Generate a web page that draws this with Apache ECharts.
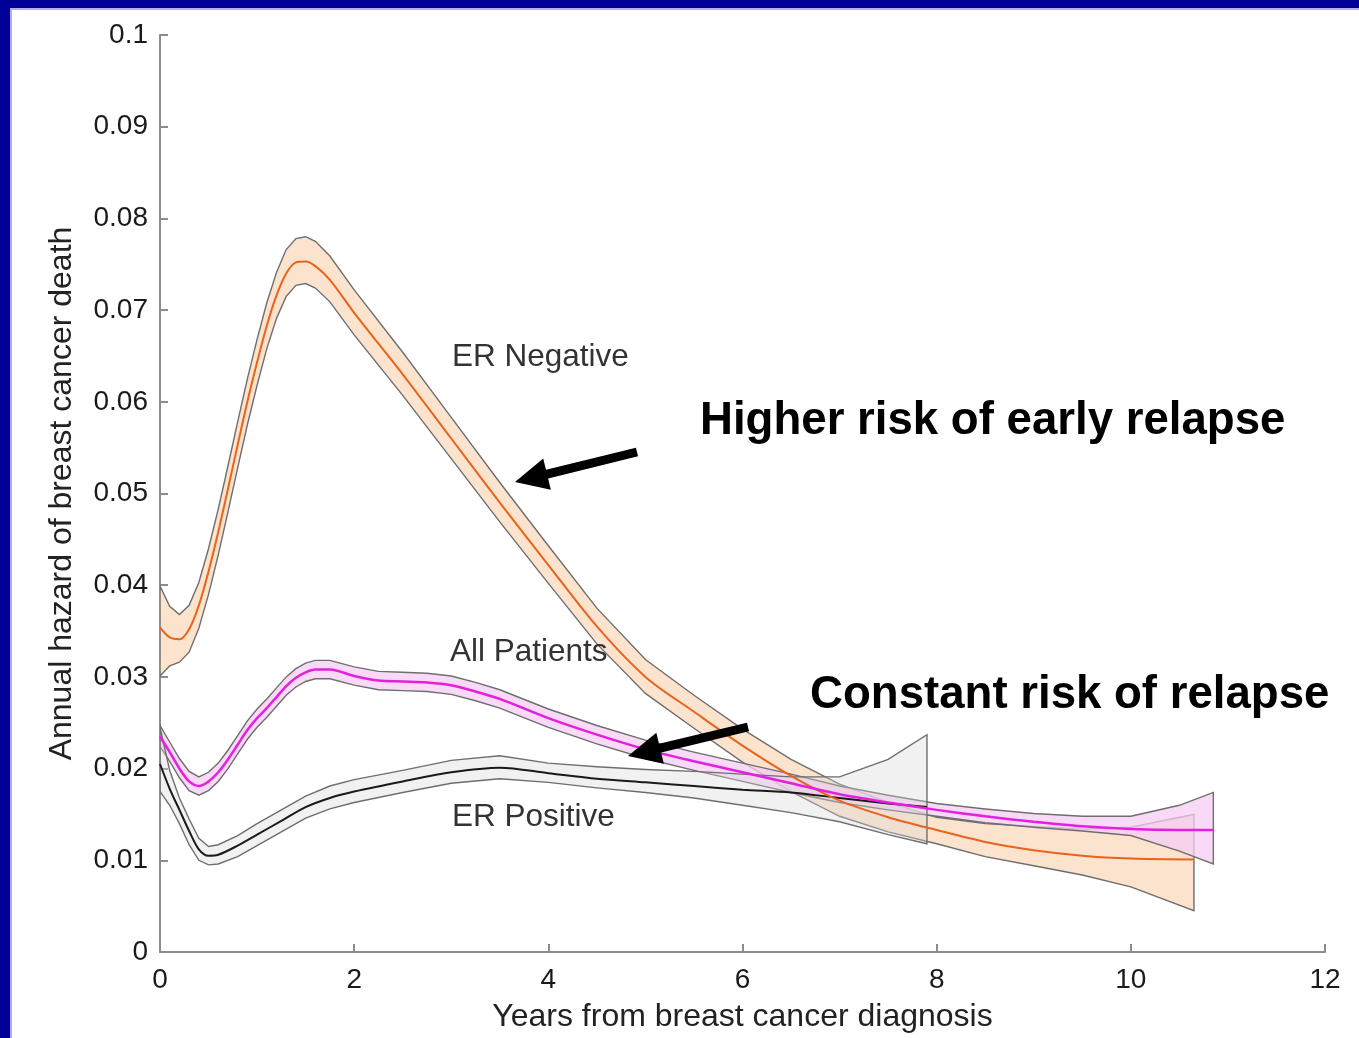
<!DOCTYPE html>
<html><head><meta charset="utf-8">
<script src="https://cdn.jsdelivr.net/npm/echarts/dist/echarts.min.js"></script>
<style>html,body{margin:0;padding:0;background:#fff;}#c{width:1359px;height:1038px;}</style>
</head><body><div id="c"></div>
<script>
// ---------- DATA ----------
const xTickLabels = ['0','2','4','6','8','10','12'];
const yTickLabels = ['0','0.01','0.02','0.03','0.04','0.05','0.06','0.07','0.08','0.09','0.1'];

// ER Negative
const xNeg = [0,0.1,0.2,0.3,0.4,0.5,0.6,0.7,0.8,0.9,1.0,1.1,1.2,1.3,1.4,1.5,1.6,1.75,2.0,2.5,3.0,3.5,4.0,4.5,5.0,5.5,6.0,6.5,7.0,7.5,8.0,8.5,9.0,9.5,10.0,10.65];
const negMean = [0.0354,0.0343,0.0341,0.0352,0.0378,0.0415,0.0458,0.0505,0.0553,0.0600,0.0643,0.0683,0.0716,0.0740,0.0752,0.0753,0.0748,0.0733,0.0697,0.0630,0.0560,0.0490,0.0422,0.0355,0.0300,0.0262,0.0225,0.0192,0.0165,0.0147,0.0133,0.0120,0.0111,0.0105,0.0102,0.0101];
const negUpper = [0.0399,0.0377,0.0368,0.0378,0.0403,0.0440,0.0483,0.0530,0.0578,0.0625,0.0668,0.0708,0.0741,0.0766,0.0778,0.0780,0.0775,0.0759,0.0722,0.0654,0.0583,0.0512,0.0443,0.0375,0.0319,0.0280,0.0243,0.0210,0.0183,0.0163,0.0147,0.0140,0.0137,0.0134,0.0136,0.0150];
const negLower = [0.0301,0.0312,0.0316,0.0327,0.0353,0.0390,0.0433,0.0480,0.0528,0.0575,0.0618,0.0658,0.0691,0.0715,0.0727,0.0729,0.0724,0.0709,0.0673,0.0607,0.0538,0.0469,0.0402,0.0336,0.0282,0.0244,0.0207,0.0175,0.0148,0.0131,0.0118,0.0104,0.0094,0.0084,0.0071,0.0045];

// All Patients
const xAll = [0,0.1,0.2,0.3,0.4,0.5,0.6,0.7,0.8,0.9,1.0,1.1,1.2,1.3,1.4,1.5,1.6,1.75,2.0,2.25,2.5,2.75,3.0,3.25,3.5,4.0,4.5,5.0,5.5,6.0,6.5,7.0,7.5,8.0,8.5,9.0,9.5,10.0,10.5,10.85];
const allMean = [0.0235,0.0218,0.0200,0.0186,0.0181,0.0186,0.0196,0.0210,0.0226,0.0242,0.0255,0.0266,0.0278,0.0290,0.0299,0.0305,0.0308,0.0308,0.0301,0.0296,0.0295,0.0294,0.0291,0.0284,0.0276,0.0255,0.0237,0.0221,0.0208,0.0196,0.0184,0.0172,0.0163,0.0155,0.0148,0.0142,0.0137,0.0134,0.0133,0.0133];
const allUpper = [0.0247,0.0229,0.0211,0.0197,0.0191,0.0196,0.0206,0.0220,0.0236,0.0252,0.0265,0.0276,0.0288,0.0300,0.0309,0.0315,0.0318,0.0318,0.0311,0.0306,0.0305,0.0304,0.0301,0.0294,0.0286,0.0265,0.0247,0.0231,0.0218,0.0206,0.0194,0.0181,0.0171,0.0162,0.0156,0.0151,0.0148,0.0148,0.0160,0.0174];
const allLower = [0.0224,0.0208,0.0190,0.0176,0.0171,0.0176,0.0186,0.0200,0.0216,0.0232,0.0245,0.0256,0.0268,0.0280,0.0289,0.0295,0.0298,0.0298,0.0291,0.0286,0.0285,0.0284,0.0281,0.0274,0.0266,0.0245,0.0227,0.0211,0.0198,0.0186,0.0174,0.0163,0.0155,0.0148,0.0141,0.0136,0.0132,0.0127,0.0110,0.0096];

// ER Positive
const xPos = [0,0.1,0.2,0.3,0.4,0.5,0.6,0.8,1.0,1.25,1.5,1.75,2.0,2.5,3.0,3.5,4.0,4.5,5.0,5.5,6.0,6.5,7.0,7.5,7.9];
const posMean = [0.0205,0.0178,0.0155,0.0132,0.0112,0.0105,0.0106,0.0116,0.0128,0.0143,0.0158,0.0168,0.0175,0.0186,0.0196,0.0201,0.0195,0.0189,0.0185,0.0181,0.0177,0.0174,0.0168,0.0162,0.0158];
const posUpper = [0.0245,0.0198,0.0168,0.0145,0.0124,0.0115,0.0117,0.0127,0.0140,0.0155,0.0170,0.0181,0.0188,0.0198,0.0209,0.0214,0.0206,0.0202,0.0199,0.0197,0.0194,0.0191,0.0191,0.0210,0.0237];
const posLower = [0.0175,0.0160,0.0140,0.0117,0.0100,0.0095,0.0096,0.0104,0.0116,0.0131,0.0146,0.0156,0.0163,0.0174,0.0184,0.0189,0.0185,0.0179,0.0174,0.0168,0.0160,0.0152,0.0142,0.0128,0.0118];

// ---------- CHART ----------
const chart = echarts.init(document.getElementById('c'), null, {renderer:'canvas'});
const FONT = '"Liberation Sans", Arial, sans-serif';
const OUT = '#6e6e6e';

function zip(xs, ys){ return xs.map((x,i)=>[x, ys[i]]); }

function band(name, xs, up, lo, fill, z){
  return {
    type:'custom', name, z, silent:true, clip:true,
    data:[[xs[0], up[0]]],
    renderItem:function(params, api){
      const pts = [];
      for (let i=0;i<xs.length;i++) pts.push(api.coord([xs[i], up[i]]));
      for (let i=xs.length-1;i>=0;i--) pts.push(api.coord([xs[i], lo[i]]));
      return {type:'polygon', shape:{points:pts}, style:{fill:fill, stroke:OUT, lineWidth:1.4}};
    }
  };
}
function meanLine(name, xs, ys, color, width, z){
  return {type:'line', name, z, silent:true, data:zip(xs,ys), smooth:0.3, showSymbol:false,
    lineStyle:{color, width}};
}
function arrow(tail, tip, shaftW, headL, headW){
  const dx = tip[0]-tail[0], dy = tip[1]-tail[1];
  const L = Math.hypot(dx,dy), ux = dx/L, uy = dy/L, nx = -uy, ny = ux;
  const bx = tip[0]-ux*headL, by = tip[1]-uy*headL;
  return [
    {type:'line', shape:{x1:tail[0], y1:tail[1], x2:bx+ux*2, y2:by+uy*2}, style:{stroke:'#000', lineWidth:shaftW}, z:50},
    {type:'polygon', shape:{points:[[tip[0],tip[1]],[bx+nx*headW,by+ny*headW],[bx-nx*headW,by-ny*headW]]}, style:{fill:'#000'}, z:50}
  ];
}

const option = {
  backgroundColor:'#ffffff',
  animation:false,
  grid:{left:160, right:34, top:35, bottom:85, containLabel:false},
  xAxis:{
    type:'value', min:0, max:12, interval:2,
    axisLine:{show:true, lineStyle:{color:'#8c8c8c', width:2}},
    axisTick:{show:true, inside:true, length:8, lineStyle:{color:'#8c8c8c', width:2}},
    splitLine:{show:false},
    axisLabel:{fontSize:28, color:'#1a1a1a', margin:14, fontFamily:FONT,
      formatter:(v)=>xTickLabels[Math.round(v/2)]},
    name:'Years from breast cancer diagnosis', nameLocation:'middle', nameGap:49,
    nameTextStyle:{fontSize:32, color:'#222', fontFamily:FONT}
  },
  yAxis:{
    type:'value', min:0, max:0.1, interval:0.01,
    axisLine:{show:true, lineStyle:{color:'#8c8c8c', width:2}},
    axisTick:{show:true, inside:true, length:8, lineStyle:{color:'#8c8c8c', width:2}},
    splitLine:{show:false},
    axisLabel:{fontSize:28, color:'#1a1a1a', margin:12, fontFamily:FONT,
      formatter:(v)=>yTickLabels[Math.round(v*100)]},
    name:'Annual hazard of breast cancer death', nameLocation:'middle', nameGap:82,
    nameTextStyle:{fontSize:32, color:'#222', fontFamily:FONT}
  },
  series:[
    band('ER Negative band', xNeg, negUpper, negLower, 'rgba(252,222,196,0.85)', 1),
    band('All Patients band', xAll, allUpper, allLower, 'rgba(246,206,244,0.75)', 2),
    band('ER Positive band', xPos, posUpper, posLower, 'rgba(215,215,215,0.35)', 3),
    meanLine('ER Negative', xNeg, negMean, '#e8641c', 2, 5),
    meanLine('All Patients', xAll, allMean, '#e41fe0', 2.5, 6),
    meanLine('ER Positive', xPos, posMean, '#1a1a1a', 2, 4)
  ],
  graphic:[
    {type:'rect', shape:{x:0,y:0,width:1359,height:8}, style:{fill:'#000099'}, z:100},
    {type:'rect', shape:{x:0,y:0,width:10,height:1038}, style:{fill:'#000099'}, z:100},
    {type:'rect', shape:{x:10,y:8,width:1349,height:2}, style:{fill:'#b0b0e6'}, z:99},
    {type:'rect', shape:{x:10,y:8,width:2,height:1030}, style:{fill:'#b0b0e6'}, z:99},
    {type:'text', x:452, y:357, z:40, style:{text:'ER Negative', fontSize:31.5, fontFamily:FONT, fill:'#333', verticalAlign:'middle'}},
    {type:'text', x:450, y:652, z:40, style:{text:'All Patients', fontSize:31.5, fontFamily:FONT, fill:'#333', verticalAlign:'middle'}},
    {type:'text', x:452, y:817, z:40, style:{text:'ER Positive', fontSize:31.5, fontFamily:FONT, fill:'#333', verticalAlign:'middle'}},
    {type:'text', x:700, y:421, z:40, style:{text:'Higher risk of early relapse', fontSize:45.6, fontWeight:'bold', fontFamily:FONT, fill:'#000', verticalAlign:'middle'}},
    {type:'text', x:810, y:695, z:40, style:{text:'Constant risk of relapse', fontSize:45.6, fontWeight:'bold', fontFamily:FONT, fill:'#000', verticalAlign:'middle'}}
  ].concat(arrow([637,452],[515,482],9,33,16)).concat(arrow([748,727],[628,756],9,33,16))
};
chart.setOption(option);
</script></body></html>
